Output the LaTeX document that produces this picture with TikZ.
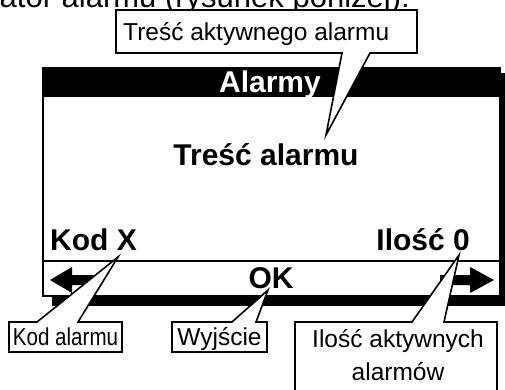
\documentclass[tikz,border=0pt]{standalone}
\usepackage{fontspec}
\setmainfont{Liberation Sans}
\begin{document}
\begin{tikzpicture}[x=1pt,y=-1pt,
  lbl/.style={font=\fontsize{24.5}{28}\selectfont, inner sep=0pt},
  scrtxt/.style={font=\fontsize{30}{34}\selectfont\bfseries, inner sep=0pt},
  callout/.style={draw=black, fill=white, line width=1.6pt, line join=miter}]
\useasboundingbox (0,0) rectangle (505,389);
\clip (0,0) rectangle (505,389);
% partial intro line
\node[anchor=base east, font=\fontsize{31}{34}\selectfont, inner sep=0pt] (intro) at (410,7) {indykator alarmu (rysunek poniżej):};
% screen with shadow
\fill[black] (52,73) rectangle (508,306);
\draw[fill=white, line width=2.5pt] (43,68) rectangle (500,296);
\fill[black] (43,68) rectangle (500,97);
\draw[line width=2.5pt] (43,261) -- (500,261);
% arrows
\fill[black] (50,280) -- (72,267) -- (72,275) -- (102,275) -- (102,285) -- (72,285) -- (72,293) -- cycle;
\fill[black] (494,280) -- (470,267) -- (470,275) -- (440,275) -- (440,285) -- (470,285) -- (470,293) -- cycle;
% screen texts
\node[scrtxt, text=white, anchor=base] (title) at (270,92) {Alarmy};
\node[scrtxt, anchor=base] (msg) at (266,165) {Treść alarmu};
\node[scrtxt, anchor=base west] (code) at (50,250) {Kod X};
\node[scrtxt, anchor=base east] (count) at (470,250) {Ilość 0};
\node[scrtxt, anchor=base] (ok) at (271,288) {OK};
% callout tips
\coordinate (tipT) at (326,135);
\coordinate (tipK) at (118,257);
\coordinate (tipW) at (268,290);
\coordinate (tipI) at (459,255);
% callouts
\draw[callout] (116,10) -- (417,10) -- (417,53) -- (370,53) -- (tipT) -- (342,53) -- (116,53) -- cycle;
\draw[callout] (9,352) -- (9,322) -- (37,322) -- (tipK) -- (78,322) -- (122,322) -- (122,352) -- cycle;
\draw[callout] (172,352) -- (172,322) -- (232,322) -- (tipW) -- (256,322) -- (267,322) -- (267,352) -- cycle;
\draw[callout] (295,400) -- (295,322) -- (412,322) -- (tipI) -- (444,322) -- (497,322) -- (497,400) -- cycle;
% callout texts
\node[lbl, anchor=base west] (cT) at (123,40) {Treść aktywnego alarmu};
\node[lbl, anchor=base] (cK) at (65.5,345) {\scalebox{0.84}[1]{Kod alarmu}};
\node[lbl, anchor=base] (cW) at (219.5,345) {Wyjście};
\node[lbl, anchor=base] (cI) at (398,347) {Ilość aktywnych};
\node[lbl, anchor=base] (cI2) at (398,380) {alarmów};
\end{tikzpicture}
\end{document}
